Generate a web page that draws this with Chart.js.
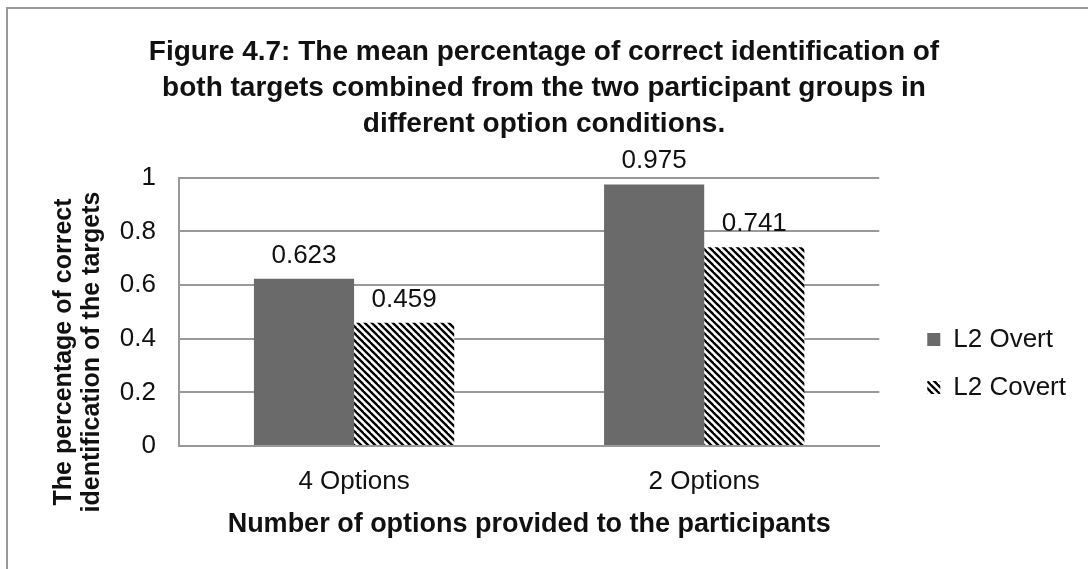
<!DOCTYPE html>
<html>
<head>
<meta charset="utf-8">
<script src="https://cdn.jsdelivr.net/npm/chart.js@4.4.1/dist/chart.umd.min.js"></script>
<style>
  html, body { margin: 0; padding: 0; background: #fff; }
  #wrap { position: relative; width: 1088px; height: 569px; overflow: hidden; }
  #frame { position: absolute; left: 6px; top: 7px; right: -10px; bottom: -10px;
           border-left: 2px solid #999; border-top: 2px solid #999; }
  canvas { position: absolute; left: 0; top: 0; }
</style>
</head>
<body>
<div id="wrap">
  <div id="frame"></div>
  <canvas id="chart" width="1088" height="569"></canvas>
</div>
<script>
const categories = ["4 Options", "2 Options"];
const overt = [0.623, 0.975];
const covert = [0.459, 0.741];
const seriesNames = ["L2 Overt", "L2 Covert"];
const yTicks = [0, 0.2, 0.4, 0.6, 0.8, 1];

const FONT = '"Liberation Sans", Arial, sans-serif';
Chart.defaults.font.family = FONT;
Chart.defaults.color = "#111";

// diagonal hatch like the original
function hatch() {
    const s = 7;
    const c = document.createElement("canvas");
    c.width = s; c.height = s;
    const g = c.getContext("2d");
    g.fillStyle = "#fff";
    g.fillRect(0, 0, s, s);
    g.strokeStyle = "#000";
    g.lineWidth = 2.3;
    for (let k = -1; k <= 1; k++) {
        g.beginPath();
        g.moveTo(k * s - 1, -1);
        g.lineTo(k * s + s + 1, s + 1);
        g.stroke();
    }
    return g.createPattern(c, "repeat");
}

const valueLabels = {
    id: "valueLabels",
    afterDatasetsDraw(chart) {
        const ctx = chart.ctx;
        ctx.save();
        ctx.font = "26px " + FONT;
        ctx.fillStyle = "#111";
        ctx.textAlign = "center";
        ctx.textBaseline = "alphabetic";
        chart.data.datasets.forEach((ds, i) => {
            chart.getDatasetMeta(i).data.forEach((bar, j) => {
                ctx.fillText(ds.data[j].toFixed(3), bar.x, bar.y - 16);
            });
        });
        ctx.restore();
    }
};

const yTitle = {
    id: "yTitle",
    afterDraw(chart) {
        const ctx = chart.ctx;
        ctx.save();
        ctx.font = "bold 25px " + FONT;
        ctx.fillStyle = "#111";
        ctx.textAlign = "center";
        ctx.textBaseline = "middle";
        ctx.translate(78, 352);
        ctx.rotate(-Math.PI / 2);
        ctx.fillText("The percentage of correct", 0, -14);
        ctx.fillText("identification of the targets", 0, 14);
        ctx.restore();
    }
};

new Chart(document.getElementById("chart"), {
    type: "bar",
    data: {
        labels: categories,
        datasets: [
            { label: seriesNames[0], data: overt, backgroundColor: "#6a6a6a", borderWidth: 0 },
            { label: seriesNames[1], data: covert, backgroundColor: hatch(), borderWidth: 0 }
        ]
    },
    options: {
        responsive: false,
        animation: false,
        layout: { padding: { top: 0, right: 12, bottom: 0, left: 12 } },
        datasets: { bar: { categoryPercentage: 0.572, barPercentage: 1.0 } },
        plugins: {
            title: {
                display: true,
                text: [
                    "Figure 4.7: The mean percentage of correct identification of",
                    "both targets combined from the two participant groups in",
                    "different option conditions."
                ],
                font: { size: 28, weight: "bold", lineHeight: 1.27 },
                color: "#111",
                padding: { top: 35, bottom: 36 }
            },
            legend: {
                position: "right",
                align: "start",
                // empty title only pushes the entries down
                title: { display: true, text: "", font: { size: 12, lineHeight: 1.2 }, padding: { top: 290, bottom: 0 } },
                labels: {
                    boxWidth: 13,
                    boxHeight: 13,
                    padding: 22,
                    font: { size: 26 },
                    color: "#111"
                }
            },
            tooltip: { enabled: false }
        },
        scales: {
            x: {
                grid: { display: false, drawTicks: false },
                border: { color: "#999", width: 2 },
                ticks: { font: { size: 26 }, color: "#111", padding: 20 },
                title: {
                    display: true,
                    text: "Number of options provided to the participants",
                    font: { size: 27, weight: "bold" },
                    color: "#111",
                    padding: { top: 4, bottom: 28 }
                },
                afterFit(scale) { scale.height = 569 - 446; }
            },
            y: {
                min: 0,
                max: 1,
                afterBuildTicks(scale) { scale.ticks = yTicks.map(v => ({ value: v })); },
                grid: { color: "#999", lineWidth: 2, drawTicks: false },
                border: { color: "#999", width: 2 },
                ticks: {
                    font: { size: 26 },
                    color: "#111",
                    padding: 23,
                    callback: v => String(v)
                },
                afterFit(scale) { scale.width = 167; }
            },
            // empty spacer between plot and legend
            gap: {
                type: "linear",
                position: "right",
                display: true,
                grid: { display: false, drawTicks: false },
                border: { display: false },
                ticks: { display: false },
                afterFit(scale) { scale.width = 26; }
            }
        }
    },
    plugins: [valueLabels, yTitle]
});
</script>
</body>
</html>
